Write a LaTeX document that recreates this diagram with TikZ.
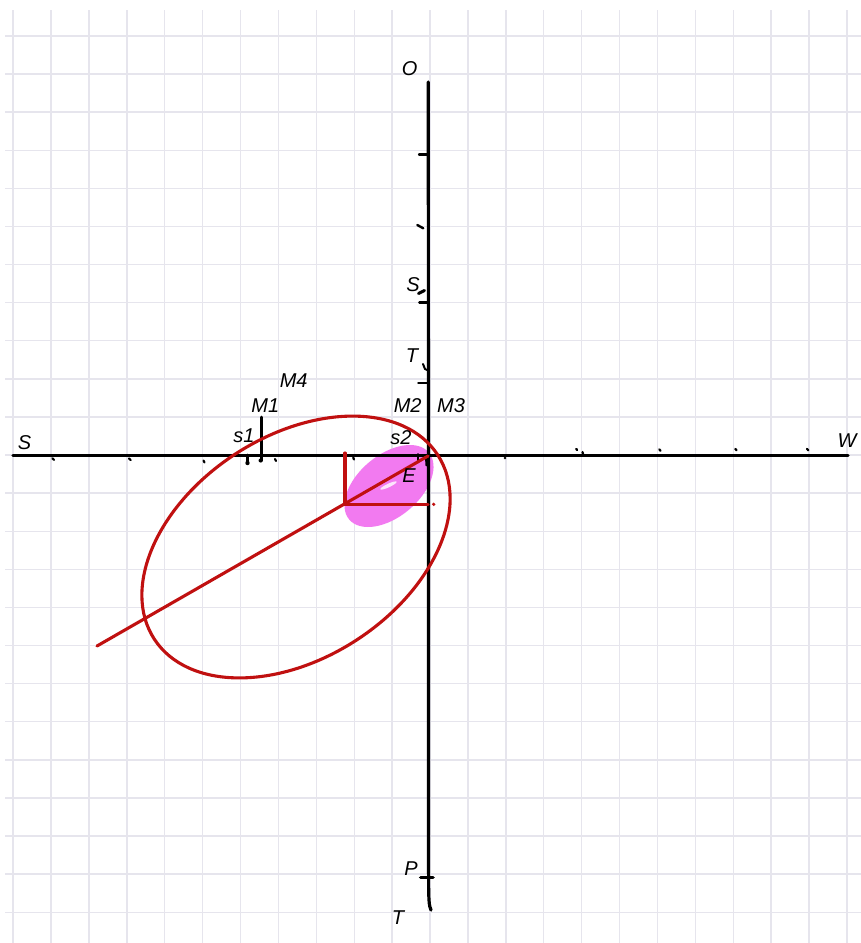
\documentclass[tikz,border=0pt]{standalone}
\usepackage{fontspec}
\setmainfont{Liberation Sans}
\definecolor{gridc}{RGB}{230,229,237}
\definecolor{redc}{RGB}{192,16,16}
\definecolor{pinkc}{RGB}{242,122,240}
\begin{document}
\begin{tikzpicture}[x=1pt,y=-1pt,
  lab/.style={font=\fontsize{20}{24}\selectfont\itshape, inner sep=0pt, text=black},
  gridline/.style={draw=gridc, line width=1.4},
  axisline/.style={draw=black, line width=3.2, line cap=round, line join=round},
  tickm/.style={draw=black, line width=2.4, line cap=round},
  dotm/.style={draw=black, line width=2.2, line cap=round},
  redline/.style={draw=redc, line width=3.1, line cap=round, line join=round}]
\useasboundingbox (0,0) rectangle (861,943);
\fill[white] (0,0) rectangle (861,943);
% grid
\foreach \k in {-11,...,11} \draw[gridline] ({430+37.9*\k},10) -- ({430+37.9*\k},943);
\foreach \k in {-11,...,12} \draw[gridline] (5,{455+38.1*\k}) -- (861,{455+38.1*\k});
% pink blob
\fill[pinkc, rotate around={40:(389,486)}] (389,486) ellipse [x radius=52, y radius=31];
\fill[white, opacity=0.8, rotate around={25:(388.5,485.5)}] (388.5,485.5) ellipse [x radius=9, y radius=1.8];
% axes
\draw[axisline] (13,455.5) -- (848,455.5);
\draw[axisline] (428.3,82) -- (428.6,885) .. controls (428.8,900) and (429,906) .. (431,910);
% ticks on vertical axis
\draw[tickm] (419,154.3) -- (428,154.3);
\draw[tickm] (417.3,225) -- (423.3,228.3);
\draw[tickm, line width=3] (418.5,293.5) -- (424.5,290.5);
\draw[tickm] (419.3,302.3) -- (428,302.3);
\draw[tickm, line width=2] (423,364) -- (425,369) -- (427,370);
\draw[tickm] (418.3,382.7) -- (428,382.7);
\draw[tickm, line width=3.6] (420.7,877.3) -- (433,877.3);
% marks on horizontal axis
\draw[dotm] (52.3,458.3) -- (54,459.8);
\draw[dotm] (129,458.5) -- (130.7,460);
\draw[dotm] (203.5,460.5) -- (204.5,462.5);
\draw[tickm, line width=2.6] (247.5,455) -- (247.5,463);
\fill (247.5,463) circle (2.2);
\draw[tickm, line width=2.6] (261.7,417) -- (261.7,461);
\fill (260.5,460.5) circle (2);
\draw[dotm] (275,459) -- (276,461);
\draw[dotm] (353.2,457.5) -- (354,459.5);
\draw[tickm, line width=2] (418,454) -- (418,462);
\draw[tickm, line width=1.8] (426,458) -- (426.3,465) -- (429,466.5);
\fill (505,458) circle (1.3);
\draw[dotm] (576.2,449) -- (577.2,450);
\draw[dotm] (582.5,452) -- (583,454);
\draw[dotm] (659.3,449.3) -- (660.5,450.8);
\draw[dotm] (735.3,448.8) -- (736.5,450.3);
\draw[dotm] (807,448.8) -- (808.3,450.3);
% red drawing
\draw[redline, rotate around={33:(296,547)}] (296,547) ellipse [x radius=169, y radius=111];
\draw[redline] (97,646) -- (428,456);
\draw[redline] (345,453) -- (345,504.5) -- (428,504.5);
\fill[redc] (433.7,504.3) circle (1.8);
% labels
\node[lab] (lO) at (409.7,68.3) {O};
\node[lab] (lS1) at (413,285) {S};
\node[lab] (lT1) at (412,356) {T};
\node[lab] (lM4) at (293.7,380.7) {M4};
\node[lab] (lM1) at (265.3,406) {M1};
\node[lab] (lM2) at (407.7,406) {M2};
\node[lab] (lM3) at (451,406) {M3};
\node[lab] (ls1) at (244,435.5) {s1};
\node[lab] (ls2) at (401,438) {s2};
\node[lab] (lE) at (409,476) {E};
\node[lab] (lS2) at (24.5,442.5) {S};
\node[lab] (lW) at (847,440.5) {W};
\node[lab] (lP) at (411,869) {P};
\node[lab] (lT2) at (398,918) {T};
\end{tikzpicture}
\end{document}
